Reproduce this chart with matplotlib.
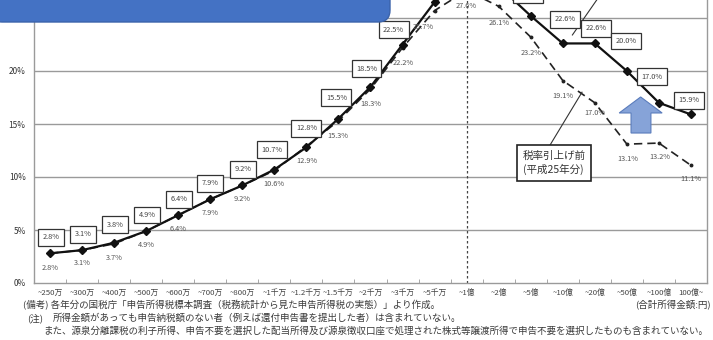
import matplotlib
matplotlib.use("Agg")
import matplotlib.pyplot as plt
from matplotlib.patches import FancyBboxPatch, Polygon
from matplotlib.transforms import IdentityTransform

plt.rcParams['font.family'] = ['Noto Sans CJK JP', 'DejaVu Sans']

# income brackets (合計所得金額)
categories = ["~250万", "~300万", "~400万", "~500万", "~600万", "~700万", "~800万",
              "~1千万", "~1.2千万", "~1.5千万", "~2千万", "~3千万", "~5千万", "~1億",
              "~2億", "~5億", "~10億", "~20億", "~50億", "~100億", "100億~"]

# burden rate after the rate increase (solid, boxed labels)
after_rate = [2.8, 3.1, 3.8, 4.9, 6.4, 7.9, 9.2, 10.7, 12.8, 15.5, 18.5, 22.5,
              26.5, 28.6, 28.0, 25.2, 22.6, 22.6, 20.0, 17.0, 15.9]

# burden rate before the rate increase, 平成25年分 (dashed, plain labels)
before_rate = [2.8, 3.1, 3.7, 4.9, 6.4, 7.9, 9.2, 10.6, 12.9, 15.3, 18.3, 22.2,
               25.7, 27.6, 26.1, 23.2, 19.1, 17.0, 13.1, 13.2, 11.1]

y_ticks = [0, 5, 10, 15, 20, 25]
y_tick_labels = ["0%", "5%", "10%", "15%", "20%", "25%"]

# label placement (pixel offsets from each point)
after_offsets = [(1, 16), (1, 16), (1, 18), (1, 16), (1, 16), (0, 16), (1, 16),
                 (-2, 20), (0, 19), (-2, 21), (-4, 18), (-9, 15), (-5, 18), (0, 18),
                 (0, 18), (-3, 21), (2, 24), (1, 15), (-1, 30), (-7, 26), (-2, 14)]
before_offsets = [(0, -15), (0, -13), (0, -14), (0, -14), (0, -14), (0, -14), (0, -14),
                  (0, -13), (0, -15), (-1, -15), (0, -15), (1, -15), (-11, -16), (0, -16),
                  (1, -17), (0, -16), (0, -15), (0, -10), (1, -15), (1, -14), (0, -14)]

W, H = 713, 340
fig = plt.figure(figsize=(W / 100, H / 100), dpi=100)
ax = fig.add_axes([34 / W, 57 / H, 673 / W, 318 / H])

x = list(range(len(categories)))
grid_c = "#9a9a9a"

for yv in y_ticks[1:] + [30]:
    ax.axhline(yv, color=grid_c, lw=1.0, zorder=1)

ax.axvline(13, color="#444444", lw=0.9, ls=(0, (2, 2)), zorder=2)

ax.plot(x, before_rate, color="#222222", lw=1.2, ls=(0, (5, 3)), marker="o",
        ms=1.8, zorder=3)
ax.plot(x, after_rate, color="#111111", lw=1.6, marker="D", ms=3.6, zorder=4)

# the top of the chart lies above the picture; skip boxes that would fall there
visible_top = 26.0
for xi, v, (dx, dy) in zip(x, after_rate, after_offsets):
    if v > visible_top:
        continue
    ax.annotate(f"{v:.1f}%", (xi, v), xytext=(dx, dy), textcoords="offset pixels",
                ha="center", va="center", fontsize=5.3, color="#444444", zorder=6,
                annotation_clip=False,
                bbox=dict(boxstyle="square,pad=0.6", fc="white", ec="#333333", lw=0.9))
for xi, v, (dx, dy) in zip(x, before_rate, before_offsets):
    ax.annotate(f"{v:.1f}%", (xi, v), xytext=(dx, dy), textcoords="offset pixels",
                ha="center", va="center", fontsize=5.3, color="#555555", zorder=6,
                annotation_clip=False)

# callout for the pre-increase series
ax.plot([15.6, 16.6], [13.0, 18.0], color="#333333", lw=0.8, zorder=5)
ax.plot([16.3, 17.45], [23.4, 28.4], color="#333333", lw=0.8, zorder=5)
ax.text(15.72, 11.3, "税率引上げ前\n(平成25年分)", ha="center", va="center",
        fontsize=7.6, color="#333333", linespacing=1.3, zorder=7,
        bbox=dict(boxstyle="square,pad=0.55", fc="white", ec="#222222", lw=1.2))

# upward arrow
arrow_pts = [(18.13, 14.15), (18.75, 14.15), (18.75, 16.04), (19.1, 16.04),
             (18.43, 17.55), (17.76, 16.04), (18.13, 16.04)]
ax.add_patch(Polygon(arrow_pts, closed=True, fc="#86a3d8", ec="#5a7cbc",
                     lw=0.8, zorder=5))

ax.set_xlim(-0.5, len(categories) - 0.5)
ax.set_ylim(0, 30)
ax.set_yticks(y_ticks)
ax.set_yticklabels(y_tick_labels, fontsize=6, color="#333333")
ax.tick_params(axis="y", length=0, pad=6)
ax.set_xticks(x)
ax.set_xticklabels(categories, fontsize=5.6, color="#444444")
ax.tick_params(axis="x", which="major", length=0, pad=4)
ax.set_xticks([i + 0.5 for i in x[:-1]], minor=True)
ax.tick_params(axis="x", which="minor", direction="in", length=3, color=grid_c)
for s in ["left", "bottom", "right", "top"]:
    ax.spines[s].set_color(grid_c)
    ax.spines[s].set_linewidth(1.0)

# footnotes
fs = 6.85
tc = "#3a3a3a"
fig.text(23 / W, 1 - 305 / H, "(備考) 各年分の国税庁「申告所得税標本調査（税務統計から見た申告所得税の実態）」より作成。",
         fontsize=fs, color=tc, va="center")
fig.text(711 / W, 1 - 305 / H, "(合計所得金額:円)", fontsize=fs, color=tc, va="center",
         ha="right")
fig.text(27 / W, 1 - 318 / H, "(注)", fontsize=fs, color=tc, va="center")
fig.text(53 / W, 1 - 318 / H, "所得金額があっても申告納税額のない者（例えば還付申告書を提出した者）は含まれていない。",
         fontsize=fs, color=tc, va="center")
fig.text(43 / W, 1 - 331 / H,
         "また、源泉分離課税の利子所得、申告不要を選択した配当所得及び源泉徴収口座で処理された株式等譲渡所得で申告不要を選択したものも含まれていない。",
         fontsize=fs, color=tc, va="center")

# title bar at the top
banner = FancyBboxPatch((-10, H - 22), 400, 60, boxstyle="round,pad=0,rounding_size=12",
                        transform=IdentityTransform(), fc="#4472c4", ec="#3b63ab",
                        lw=1.0, zorder=10)
fig.add_artist(banner)

fig.savefig("out.png", dpi=100)
